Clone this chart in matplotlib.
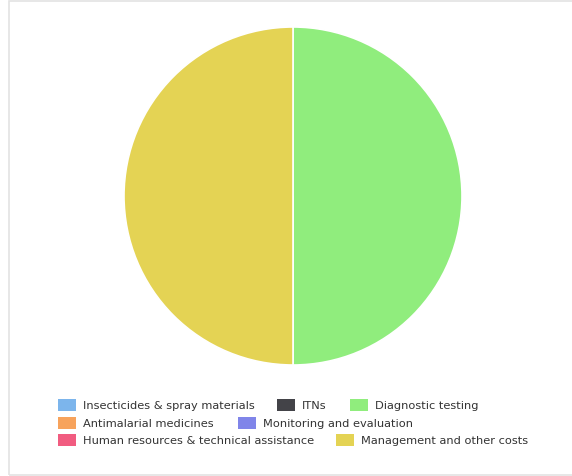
import matplotlib
matplotlib.use("Agg")
import matplotlib.pyplot as plt
from matplotlib.patches import Rectangle

categories = ["Insecticides & spray materials", "ITNs", "Diagnostic testing",
              "Antimalarial medicines", "Monitoring and evaluation",
              "Human resources & technical assistance", "Management and other costs"]
values = [0, 0, 50, 0, 0, 0, 50]
colors = ["#7cb5ec", "#434348", "#90ed7d", "#f7a35c", "#8085e9", "#f15c80", "#e4d354"]

W, H = 572, 477
fig = plt.figure(figsize=(W / 100, H / 100), dpi=100)
fig.patch.set_facecolor("white")

# outer border
border = Rectangle((8.5 / W, 1 - 476 / H), (W + 10) / W, (474) / H,
                   transform=fig.transFigure, fill=False, edgecolor="#e3e3e3",
                   linewidth=1.2)
fig.add_artist(border)

cx, cy, r = 293, 197, 169
ax = fig.add_axes([(cx - r) / W, 1 - (cy + r) / H, 2 * r / W, 2 * r / H])
ax.pie(values, colors=colors, startangle=90, counterclock=False,
       wedgeprops=dict(edgecolor="white", linewidth=1.2))
ax.set_xlim(-1, 1)
ax.set_ylim(-1, 1)
ax.set_aspect("equal")
ax.axis("off")

# legend (Highcharts-style horizontal flow)
legend_pos = [(58, 406), (277, 406), (350, 406),
              (58, 424), (238, 424),
              (58, 441), (336, 441)]
for (x, y), name, col in zip(legend_pos, categories, colors):
    fig.add_artist(Rectangle((x / W, 1 - (y + 6) / H), 18 / W, 12 / H,
                             transform=fig.transFigure, facecolor=col,
                             edgecolor="none"))
    fig.text((x + 25) / W, 1 - y / H, name, fontsize=8.2, color="#333333",
             va="center", ha="left", family="DejaVu Sans")

fig.savefig("out.png", dpi=100)
